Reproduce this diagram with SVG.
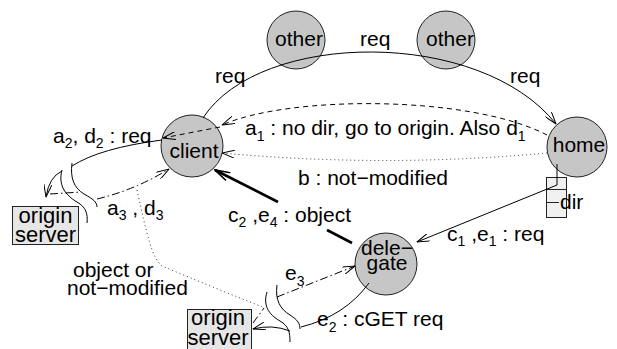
<svg xmlns="http://www.w3.org/2000/svg" width="617" height="349" viewBox="0 0 617 349">
<style>
text{font-family:"Liberation Sans",Arial,sans-serif;font-size:21px;fill:#000}
.sub{font-size:14px}
.box{font-size:22px}
.node{fill:#c6c6c6;stroke:#222;stroke-width:1}
.srv{fill:#e6e6e6;stroke:#222;stroke-width:1}
.c{fill:none;stroke:#000;stroke-width:1}
.dash{stroke-dasharray:5 4}
.dot{stroke-dasharray:1 3;stroke:#333}
.dd{stroke-dasharray:8 3 1.5 3}
.thick{stroke-width:2.6}
</style>
<defs>
<marker id="ah" viewBox="0 0 13 8" refX="12.5" refY="4" markerWidth="13" markerHeight="8" markerUnits="userSpaceOnUse" orient="auto">
<path d="M0,0 L12.5,4 L0,8" fill="none" stroke="#000" stroke-width="1"/>
</marker>
<marker id="aht" viewBox="0 0 16 10" refX="15" refY="5" markerWidth="16" markerHeight="10" markerUnits="userSpaceOnUse" orient="auto">
<path d="M0,0.5 L15,5 L0,9.5" fill="none" stroke="#000" stroke-width="1.6"/>
</marker>
</defs>
<rect width="617" height="349" fill="#fff"/>

<g id="other1"><circle class="node" cx="296" cy="40" r="29"/><text x="299" y="46" text-anchor="middle">other</text></g>
<g id="other2"><circle class="node" cx="446" cy="40" r="29"/><text x="450" y="46" text-anchor="middle">other</text></g>
<g id="client"><circle class="node" cx="192" cy="146" r="31"/><text x="194" y="158" text-anchor="middle">client</text></g>
<g id="home"><circle class="node" cx="577" cy="147" r="30"/><text x="579" y="152" text-anchor="middle">home</text></g>
<g id="delegate"><circle class="node" cx="386" cy="264" r="31"/><text x="387" y="255" text-anchor="middle">dele−</text><text x="387" y="270" text-anchor="middle">gate</text></g>
<g id="origin1"><rect class="srv" x="12.5" y="206.5" width="66" height="38"/><text class="box" x="45.5" y="223" text-anchor="middle">origin</text><text class="box" x="45.5" y="242" text-anchor="middle">server</text></g>
<g id="origin2"><rect class="srv" x="187.5" y="309.5" width="64" height="45"/><text class="box" x="218" y="325" text-anchor="middle">origin</text><text class="box" x="218" y="345" text-anchor="middle">server</text></g>
<g id="dir"><rect x="546.5" y="177.5" width="20" height="40" fill="#f0f0f0" stroke="#222"/><path d="M546.5,189.5 H566.5 M546.5,202.5 H559" stroke="#222" fill="none"/><text x="560" y="209">dir</text></g>

<g id="connectors">
<path class="c" d="M203,118 C260,30 480,28 556,124" marker-end="url(#ah)"/>
<path class="c dash" d="M547,135 C470,95 290,95 222,125" marker-end="url(#ah)"/>
<path class="c dash" d="M220,127 L163,138" marker-end="url(#ah)"/>
<path class="c dot" d="M547,153 Q385,168 222,153" marker-end="url(#ah)"/>
<path class="c" d="M557,164 L557,185 L417,242" marker-end="url(#ah)"/>
<path class="c thick" d="M352,243 L327,230"/>
<path class="c thick" d="M278,202 L215,170" marker-end="url(#aht)"/>
<path class="c" d="M162,140 Q100,148 72,166"/>
<path class="c" d="M62,171 Q49,177 46,197" marker-end="url(#ah)"/>
<path class="c dd" d="M50,194 L81,192"/>
<path class="c dd" d="M97,199 Q135,190 169,169" marker-end="url(#ah)"/>
<path class="c" d="M62,170 C58,185 65,195 77,202 C86,207 88,214 87,223"/>
<path class="c" d="M72,163 C70,178 74,188 84,194 C93,199 97,202 97,207"/>
<path class="c dot" d="M137,190 C147,235 152,258 162,266 C195,280 235,296 265,308"/>
<path class="c" d="M369,283 Q345,316 301,327"/>
<path class="c" d="M290,331 Q272,324 253,329" marker-end="url(#ah)"/>
<path class="c dd" d="M253,323 L264,308"/>
<path class="c dd" d="M277,297 L355,266" marker-end="url(#ah)"/>
<path class="c" d="M267,292 C263,305 268,314 280,321 C289,326 290,333 290,342"/>
<path class="c" d="M277,285 C275,300 280,309 290,315 C298,320 300,324 300,329"/>
</g>

<g id="labels">
<text x="215" y="83">req</text>
<text x="360" y="46">req</text>
<text x="510" y="83">req</text>
<text x="245" y="135">a<tspan class="sub" dy="6">1</tspan><tspan dy="-6"> : no dir, go to origin. Also d</tspan><tspan class="sub" dy="6">1</tspan></text>
<text x="53" y="143">a<tspan class="sub" dy="5">2</tspan><tspan dy="-5">, d</tspan><tspan class="sub" dy="5">2</tspan><tspan dy="-5"> : req</tspan></text>
<text x="298" y="185">b : not−modified</text>
<text x="107" y="215">a<tspan class="sub" dy="5">3</tspan><tspan dy="-5"> , d</tspan><tspan class="sub" dy="5">3</tspan></text>
<text x="228" y="222">c<tspan class="sub" dy="5">2</tspan><tspan dy="-5"> ,e</tspan><tspan class="sub" dy="5">4</tspan><tspan dy="-5"> : object</tspan></text>
<text x="447" y="241">c<tspan class="sub" dy="5">1</tspan><tspan dy="-5"> ,e</tspan><tspan class="sub" dy="5">1</tspan><tspan dy="-5"> : req</tspan></text>
<text x="73" y="277">object or</text>
<text x="67" y="295">not−modified</text>
<text x="285" y="280">e<tspan class="sub" dy="6">3</tspan></text>
<text x="317" y="326">e<tspan class="sub" dy="6">2</tspan><tspan dy="-6"> : cGET req</tspan></text>
</g>
</svg>
